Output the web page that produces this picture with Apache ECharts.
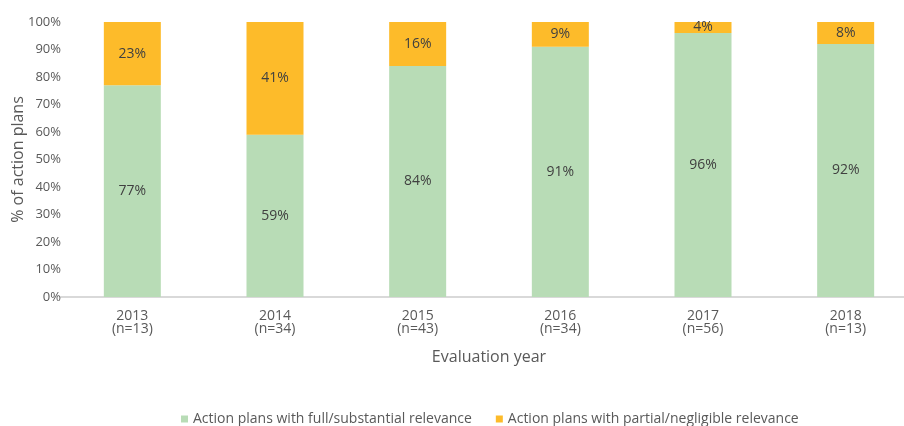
<!DOCTYPE html>
<html>
<head>
<meta charset="utf-8">
<script src="https://cdn.jsdelivr.net/npm/echarts@6/dist/echarts.min.js"></script>
<style>
  html, body { margin: 0; padding: 0; background: #fff; }
  #chart { width: 904px; height: 426px; }
</style>
</head>
<body>
<div id="chart"></div>
<script>
var years = ['2013', '2014', '2015', '2016', '2017', '2018'];
var counts = [13, 34, 43, 34, 56, 13];
var fullRelevance = [77, 59, 84, 91, 96, 92];
var partialRelevance = [23, 41, 16, 9, 4, 8];

var categories = years.map(function (y, i) { return y + '\n(n=' + counts[i] + ')'; });

var txt = '#595959';
var font = 'Open Sans';

var option = {
  animation: false,
  textStyle: { fontFamily: font },
  grid: { left: 61, top: 22, width: 856, height: 275, containLabel: false, outerBoundsMode: 'none' },
  legend: {
    top: 412,
    left: 181,
    padding: 0,
    itemWidth: 7,
    itemHeight: 7,
    itemGap: 24,
    icon: 'rect',
    textStyle: { color: txt, fontSize: 14, fontFamily: font },
    data: ['Action plans with full/substantial relevance', 'Action plans with partial/negligible relevance']
  },
  xAxis: {
    type: 'category',
    data: categories,
    name: 'Evaluation year',
    nameLocation: 'middle',
    nameGap: 52,
    nameTextStyle: { color: txt, fontSize: 16, fontFamily: font },
    axisLine: { lineStyle: { color: '#d9d9d9', width: 2 } },
    axisTick: { show: false },
    axisLabel: { color: txt, fontSize: 14, lineHeight: 13, margin: 13, fontFamily: font }
  },
  yAxis: {
    type: 'value',
    min: 0,
    max: 100,
    interval: 10,
    name: '% of action plans',
    nameLocation: 'middle',
    nameGap: 35,
    nameMoveOverlap: false,
    nameTextStyle: { color: txt, fontSize: 16, fontFamily: font },
    axisLine: { show: false },
    axisTick: { show: false },
    splitLine: { show: false },
    axisLabel: { color: txt, fontSize: 13, margin: 0, formatter: '{value}%', fontFamily: font }
  },
  series: [
    {
      name: 'Action plans with full/substantial relevance',
      type: 'bar',
      stack: 'total',
      barWidth: 57,
      data: fullRelevance,
      itemStyle: { color: '#b8dcb6' },
      label: { show: true, position: 'inside', formatter: '{c}%', color: '#404040', fontSize: 14, fontFamily: font }
    },
    {
      name: 'Action plans with partial/negligible relevance',
      type: 'bar',
      stack: 'total',
      barWidth: 57,
      data: partialRelevance,
      itemStyle: { color: '#fdbb2a' },
      label: { show: true, position: 'inside', formatter: '{c}%', color: '#404040', fontSize: 14, fontFamily: font }
    }
  ]
};

var chart = echarts.init(document.getElementById('chart'));
chart.setOption(option);
</script>
</body>
</html>
